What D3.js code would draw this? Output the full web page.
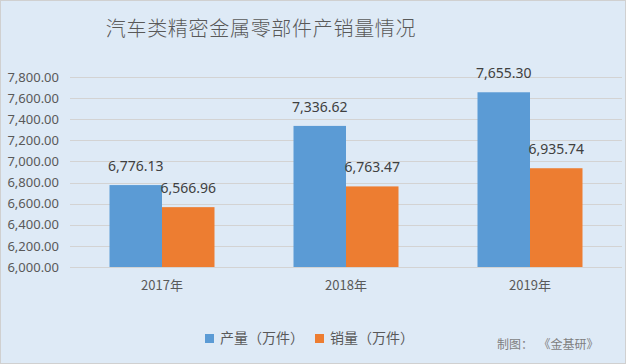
<!DOCTYPE html>
<html>
<head>
<meta charset="utf-8">
<script src="https://cdn.jsdelivr.net/npm/d3@7"></script>
<style>
  body { margin:0; background:#fff; }
  text { font-family: "Noto Sans CJK SC", "Noto Sans", sans-serif; }
</style>
</head>
<body>
<script>
const w=626;
const h=364;

// data
const years=["2017年","2018年","2019年"];
const seriesNames=["产量（万件）","销量（万件）"];
const output=[6776.13,7336.62,7655.30];
const sales=[6566.96,6763.47,6935.74];
const yTicks=[6000,6200,6400,6600,6800,7000,7200,7400,7600,7800];
const colors=["#5B9BD5","#ED7D31"];

const margin={left:70,right:4,top:77,bottom:97};

let svg=d3.select("body")
  .append("svg")
  .attr("width",w)
  .attr("height",h);

// background + border
svg.append("rect")
  .attr("x",0.5).attr("y",0.5)
  .attr("width",w-1).attr("height",h-1)
  .attr("fill","#DEEAF6")
  .attr("stroke","#D0D0D0");

// title
svg.append("text")
  .attr("x",261).attr("y",36)
  .attr("text-anchor","middle")
  .attr("font-size",20)
  .attr("font-weight",300)
  .attr("letter-spacing",0.7)
  .attr("fill","#595959")
  .text("汽车类精密金属零部件产销量情况");

let x=d3.scaleBand()
  .domain(years)
  .range([margin.left,w-margin.right]);

let x1=d3.scaleBand()
  .domain([0,1])
  .range([0,105])
  .padding(0);

let y=d3.scaleLinear()
  .domain([6000,7800])
  .range([h-margin.bottom,margin.top]);

// gridlines
svg.append("g")
  .selectAll("line")
  .data(yTicks)
  .enter()
  .append("line")
  .attr("x1",margin.left)
  .attr("x2",w-margin.right)
  .attr("y1",d=>Math.round(y(d))+0.5)
  .attr("y2",d=>Math.round(y(d))+0.5)
  .attr("stroke","#D3D3D3")
  .attr("stroke-width",1);

// y axis labels
let fmt=d3.format(",.2f");
let y_axis=d3.axisLeft(y).tickValues(yTicks).tickFormat(fmt).tickSize(0).tickPadding(11);
let gy=svg.append("g")
  .attr("transform","translate("+margin.left+",0)")
  .call(y_axis);
gy.select(".domain").remove();
gy.selectAll("text")
  .attr("font-size",13)
  .attr("fill","#595959")
  .style("font-family","'Noto Sans', sans-serif");

// x axis labels
let x_axis=d3.axisBottom(x).tickSize(0).tickPadding(14);
let gx=svg.append("g")
  .attr("transform","translate(0,"+(h-margin.bottom)+")")
  .call(x_axis);
gx.select(".domain").remove();
gx.selectAll("text")
  .attr("font-size",13)
  .attr("fill","#595959");

// bars
let rows=years.map((yr,i)=>({year:yr,vals:[output[i],sales[i]]}));

let groups=svg.selectAll("g.grp")
  .data(rows)
  .enter()
  .append("g")
  .attr("class","grp")
  .attr("transform",d=>"translate("+(x(d.year)+x.bandwidth()/2-52.5)+",0)");

groups.selectAll("rect")
  .data(d=>d.vals.map((v,k)=>({k:k,v:v})))
  .enter()
  .append("rect")
  .attr("x",d=>x1(d.k))
  .attr("width",x1.bandwidth())
  .attr("y",d=>y(d.v))
  .attr("height",d=>y(6000)-y(d.v))
  .attr("fill",d=>colors[d.k]);

groups.selectAll("text")
  .data(d=>d.vals.map((v,k)=>({k:k,v:v})))
  .enter()
  .append("text")
  .attr("x",d=>x1(d.k)+x1.bandwidth()/2)
  .attr("y",d=>y(d.v)-14)
  .attr("text-anchor","middle")
  .attr("font-size",14)
  .attr("fill","#404040")
  .style("font-family","'Noto Sans', sans-serif")
  .text(d=>fmt(d.v));

// legend
let legendX=[205,315];
let leg=svg.selectAll("g.leg")
  .data(seriesNames)
  .enter()
  .append("g")
  .attr("class","leg")
  .attr("transform",(d,i)=>"translate("+legendX[i]+",334)");
leg.append("rect")
  .attr("width",9).attr("height",9)
  .attr("fill",(d,i)=>colors[i]);
leg.append("text")
  .attr("x",15).attr("y",9)
  .attr("font-size",14)
  .attr("fill","#595959")
  .text(d=>d);

// source note
svg.append("text")
  .attr("x",497).attr("y",349)
  .attr("font-size",12)
  .attr("fill","#7F7F7F")
  .style("white-space","pre")
  .text("制图：  《金基研》");
</script>
</body>
</html>
